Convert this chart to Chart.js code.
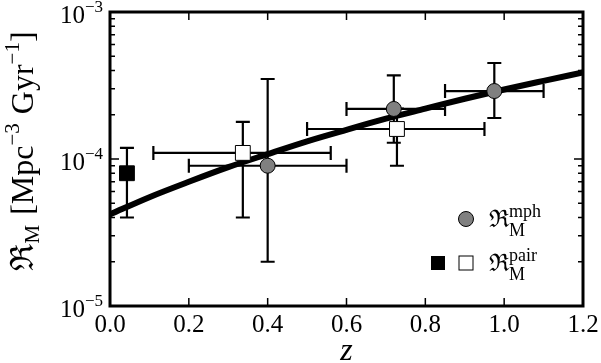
<!DOCTYPE html>
<html>
<head>
<meta charset="utf-8">
<script src="https://cdn.jsdelivr.net/npm/chart.js@4"></script>
<style>
  html, body { margin: 0; padding: 0; background: #fff; }
  #wrap { width: 601px; height: 363px; }
</style>
</head>
<body>
<div id="wrap"><canvas id="rateChart" width="601" height="363"></canvas></div>
<script>
// morphology-based merger rate
const mphZ = [0.40, 0.72, 0.975];
const mphRate = [9.0e-5, 2.19e-4, 2.9e-4];
const mphZLo = [0.20, 0.60, 0.85];
const mphZHi = [0.60, 0.85, 1.10];
const mphRateLo = [2.0e-5, 1.29e-4, 1.9e-4];
const mphRateHi = [3.5e-4, 3.7e-4, 4.5e-4];

// pair-based merger rate, local point (filled)
const pairLocalZ = [0.043];
const pairLocalRate = [8.0e-5];
const pairLocalRateLo = [4.0e-5];
const pairLocalRateHi = [1.19e-4];

// pair-based merger rate (open)
const pairZ = [0.337, 0.728];
const pairRate = [1.1e-4, 1.6e-4];
const pairZLo = [0.11, 0.50];
const pairZHi = [0.56, 0.95];
const pairRateLo = [4.0e-5, 9.0e-5];
const pairRateHi = [1.79e-4, 2.2e-4];

// model curve
const modelZ = [0.0, 0.1, 0.2, 0.3, 0.4, 0.5, 0.6, 0.7, 0.8, 0.9, 1.0, 1.1, 1.2];
const modelRate = [4.2e-5, 5.5e-5, 7.0e-5, 8.8e-5, 1.08e-4, 1.32e-4, 1.58e-4, 1.88e-4, 2.20e-4, 2.57e-4, 2.97e-4, 3.40e-4, 3.88e-4];

const xTicks = [0.0, 0.2, 0.4, 0.6, 0.8, 1.0, 1.2];
const xTickLabels = ['0.0', '0.2', '0.4', '0.6', '0.8', '1.0', '1.2'];
const yTicks = [1e-5, 1e-4, 1e-3];
const yTickExps = ['\u22125', '\u22124', '\u22123'];

const SERIF = '"Liberation Serif", "DejaVu Serif", serif';

function pts(xs, ys) {
    return xs.map((x, i) => ({ x: x, y: ys[i] }));
}

// draw a run of text pieces: {t, size, dy}
function drawRich(ctx, parts, x, y) {
    let cx = x;
    parts.forEach(p => {
        ctx.font = p.size + 'px ' + SERIF;
        ctx.fillText(p.t, cx, y + (p.dy || 0));
        if (!p.noAdvance) cx += ctx.measureText(p.t).width + (p.gap || 0);
    });
    return cx - x;
}
function richWidth(ctx, parts) {
    let w = 0;
    parts.forEach(p => {
        ctx.font = p.size + 'px ' + SERIF;
        if (!p.noAdvance) w += ctx.measureText(p.t).width + (p.gap || 0);
    });
    return w;
}

const errorBars = [
    { z: mphZ, r: mphRate, zLo: mphZLo, zHi: mphZHi, rLo: mphRateLo, rHi: mphRateHi },
    { z: pairLocalZ, r: pairLocalRate, zLo: pairLocalZ, zHi: pairLocalZ, rLo: pairLocalRateLo, rHi: pairLocalRateHi },
    { z: pairZ, r: pairRate, zLo: pairZLo, zHi: pairZHi, rLo: pairRateLo, rHi: pairRateHi }
];

const errorBarPlugin = {
    id: 'errorBars',
    beforeDatasetsDraw(chart) {
        const ctx = chart.ctx, xs = chart.scales.x, ys = chart.scales.y;
        const cap = 7;
        ctx.save();
        ctx.strokeStyle = '#000';
        ctx.lineWidth = 2.2;
        errorBars.forEach(g => {
            g.z.forEach((z, i) => {
                const px = xs.getPixelForValue(z);
                const py = ys.getPixelForValue(g.r[i]);
                const top = ys.getPixelForValue(g.rHi[i]);
                const bot = ys.getPixelForValue(g.rLo[i]);
                ctx.beginPath();
                ctx.moveTo(px, top); ctx.lineTo(px, bot);
                ctx.moveTo(px - cap, top); ctx.lineTo(px + cap, top);
                ctx.moveTo(px - cap, bot); ctx.lineTo(px + cap, bot);
                if (g.zLo[i] !== g.zHi[i]) {
                    const l = xs.getPixelForValue(g.zLo[i]);
                    const r = xs.getPixelForValue(g.zHi[i]);
                    ctx.moveTo(l, py); ctx.lineTo(r, py);
                    ctx.moveTo(l, py - cap); ctx.lineTo(l, py + cap);
                    ctx.moveTo(r, py - cap); ctx.lineTo(r, py + cap);
                }
                ctx.stroke();
            });
        });
        ctx.restore();
    }
};

const axesPlugin = {
    id: 'mplAxes',
    afterDraw(chart) {
        const ctx = chart.ctx, xs = chart.scales.x, ys = chart.scales.y;
        const a = chart.chartArea;
        ctx.save();
        ctx.strokeStyle = '#000';
        ctx.fillStyle = '#000';

        // ticks (inward, all four sides)
        ctx.lineWidth = 1.5;
        ctx.beginPath();
        xTicks.forEach(v => {
            const px = xs.getPixelForValue(v);
            ctx.moveTo(px, a.bottom); ctx.lineTo(px, a.bottom - 8);
            ctx.moveTo(px, a.top); ctx.lineTo(px, a.top + 8);
        });
        yTicks.forEach(v => {
            const py = ys.getPixelForValue(v);
            ctx.moveTo(a.left, py); ctx.lineTo(a.left + 9, py);
            ctx.moveTo(a.right, py); ctx.lineTo(a.right - 9, py);
        });
        for (let d = 0; d < yTicks.length - 1; d++) {
            for (let k = 2; k <= 9; k++) {
                const py = ys.getPixelForValue(yTicks[d] * k);
                ctx.moveTo(a.left, py); ctx.lineTo(a.left + 5, py);
                ctx.moveTo(a.right, py); ctx.lineTo(a.right - 5, py);
            }
        }
        ctx.stroke();

        // frame
        ctx.lineWidth = 3;
        ctx.strokeRect(a.left, a.top, a.right - a.left, a.bottom - a.top);

        // x tick labels
        ctx.font = '25px ' + SERIF;
        ctx.textAlign = 'center';
        ctx.textBaseline = 'alphabetic';
        xTicks.forEach((v, i) => {
            ctx.fillText(xTickLabels[i], xs.getPixelForValue(v), a.bottom + 26);
        });

        // y tick labels 10^n
        ctx.textAlign = 'left';
        yTicks.forEach((v, i) => {
            const parts = [{ t: '10', size: 25 }, { t: yTickExps[i], size: 17, dy: -11 }];
            const w = richWidth(ctx, parts);
            drawRich(ctx, parts, a.left - 7 - w, ys.getPixelForValue(v) + 11);
        });

        // x title
        ctx.font = 'italic 32px ' + SERIF;
        ctx.textAlign = 'center';
        ctx.fillText('z', (a.left + a.right) / 2, 360);

        // y title, rotated
        ctx.textAlign = 'left';
        const yl = [
            { t: '\u211C', size: 32 },
            { t: 'M', size: 21, dy: 6, gap: 10 },
            { t: '[Mpc', size: 32 },
            { t: '\u22123', size: 21, dy: -14, gap: 9 },
            { t: 'Gyr', size: 32 },
            { t: '\u22121', size: 21, dy: -14 },
            { t: ']', size: 32 }
        ];
        const yw = richWidth(ctx, yl);
        ctx.save();
        ctx.translate(33, (a.top + a.bottom) / 2 - 8);
        ctx.rotate(-Math.PI / 2);
        drawRich(ctx, yl, -yw / 2, 0);
        ctx.restore();

        // legend
        const lx = 466, ly1 = 219, ly2 = 263;
        ctx.lineWidth = 1;
        ctx.fillStyle = '#808080';
        ctx.beginPath();
        ctx.arc(lx, ly1, 7.5, 0, Math.PI * 2);
        ctx.fill(); ctx.stroke();
        ctx.fillStyle = '#000';
        ctx.fillRect(431, ly2 - 7, 14, 14);
        ctx.fillStyle = '#fff';
        ctx.fillRect(lx - 7, ly2 - 7, 14, 14);
        ctx.strokeRect(lx - 7, ly2 - 7, 14, 14);
        ctx.fillStyle = '#000';
        [[ly1, 'mph'], [ly2, 'pair']].forEach(([y, sup]) => {
            drawRich(ctx, [
                { t: '\u211C', size: 24 },
                { t: sup, size: 18, dy: -10, noAdvance: true },
                { t: 'M', size: 18, dy: 9 }
            ], 489, y + 8);
        });
        ctx.restore();
    }
};

const ctx = document.getElementById('rateChart').getContext('2d');
new Chart(ctx, {
    type: 'line',
    data: {
        datasets: [
            {
                label: 'model',
                data: pts(modelZ, modelRate),
                borderColor: '#000',
                borderWidth: 6,
                pointRadius: 0,
                tension: 0.4,
                cubicInterpolationMode: 'monotone',
                order: 2
            },
            {
                label: 'pair local',
                data: pts(pairLocalZ, pairLocalRate),
                showLine: false,
                pointStyle: 'rect',
                pointRadius: 10.5,
                backgroundColor: '#000',
                borderColor: '#000',
                borderWidth: 1,
                order: 1
            },
            {
                label: 'pair',
                data: pts(pairZ, pairRate),
                showLine: false,
                pointStyle: 'rect',
                pointRadius: 10.5,
                backgroundColor: '#fff',
                borderColor: '#000',
                borderWidth: 1,
                order: 1
            },
            {
                label: 'mph',
                data: pts(mphZ, mphRate),
                showLine: false,
                pointStyle: 'circle',
                pointRadius: 7.5,
                backgroundColor: '#808080',
                borderColor: '#000',
                borderWidth: 1,
                order: 0
            }
        ]
    },
    options: {
        responsive: false,
        animation: false,
        layout: { padding: { left: 110, right: 18, top: 12, bottom: 57 } },
        plugins: { legend: { display: false }, tooltip: { enabled: false } },
        scales: {
            x: { type: 'linear', min: 0, max: 1.2, display: false },
            y: { type: 'logarithmic', min: 1e-5, max: 1e-3, display: false }
        }
    },
    plugins: [errorBarPlugin, axesPlugin]
});
</script>
</body>
</html>
